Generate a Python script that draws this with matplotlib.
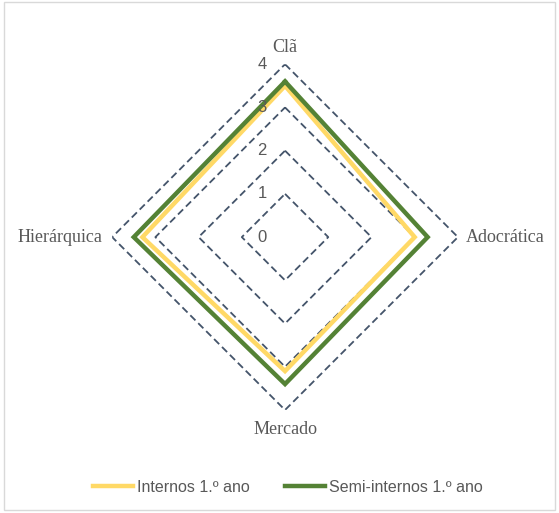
import numpy as np
import matplotlib.pyplot as plt
from matplotlib.lines import Line2D
from matplotlib.patches import Rectangle

# culture profile scores per category
categories = ['Clã', 'Adocrática', 'Mercado', 'Hierárquica']
internos = [3.5, 3.0, 3.1, 3.3]
semi_internos = [3.6, 3.3, 3.4, 3.5]
levels = [1, 2, 3, 4]
series_names = ['Internos 1.º ano', 'Semi-internos 1.º ano']

YELLOW = '#FFD966'
GREEN = '#548235'
GRID = '#44546A'
TEXT = '#595959'

fig = plt.figure(figsize=(5.59, 5.13), dpi=100)
ax = fig.add_axes([0.2004, 0.2008, 0.619, 0.674], projection='polar')
ax.set_theta_offset(np.pi / 2)
ax.set_theta_direction(-1)
ax.set_ylim(0, 4)
ax.grid(False)
ax.spines['polar'].set_visible(False)
ax.set_xticks([])
ax.set_yticks([])
ax.patch.set_alpha(0)

angles = np.linspace(0, 2 * np.pi, len(categories), endpoint=False)
closed = np.append(angles, angles[0])

# dashed diamond gridlines
for lv in levels:
    ax.plot(closed, [lv] * len(closed), color=GRID, lw=1.3,
            ls=(0, (4, 2.2)), zorder=1)

# series
for vals, col in [(internos, YELLOW), (semi_internos, GREEN)]:
    ax.plot(closed, vals + vals[:1], color=col, lw=3.2, zorder=3,
            solid_joinstyle='miter')

# radial value labels along the top axis
for lv in [0] + levels:
    ax.annotate(str(lv), xy=(0, lv), xytext=(-16.5, 0), textcoords='offset points',
                ha='center', va='center', fontsize=12, color=TEXT,
                family='Liberation Sans', zorder=4)

# category labels
offsets = [(0, 6), (6, 0), (0, -8), (-7, 0)]
aligns = [('center', 'bottom'), ('left', 'center'), ('center', 'top'), ('right', 'center')]
for ang, name, off, (ha, va) in zip(angles, categories, offsets, aligns):
    ax.annotate(name, xy=(ang, 4), xytext=off, textcoords='offset points',
                ha=ha, va=va, fontsize=13, color=TEXT, family='Liberation Serif',
                annotation_clip=False)

# legend at the bottom
handles = [Line2D([], [], color=YELLOW, lw=3.2),
           Line2D([], [], color=GREEN, lw=3.2)]
fig.legend(handles, series_names, loc='center', bbox_to_anchor=(0.515, 0.05),
           ncol=2, frameon=False, handlelength=2.5, handletextpad=0.25,
           columnspacing=2.2, prop={'family': 'Liberation Sans', 'size': 11.5},
           labelcolor=TEXT)

# chart border
fig.patches.append(Rectangle((0.008, 0.006), 0.985, 0.99, transform=fig.transFigure,
                             fill=False, edgecolor='#D9D9D9', lw=1.0))

fig.savefig('out.png', dpi=100)
